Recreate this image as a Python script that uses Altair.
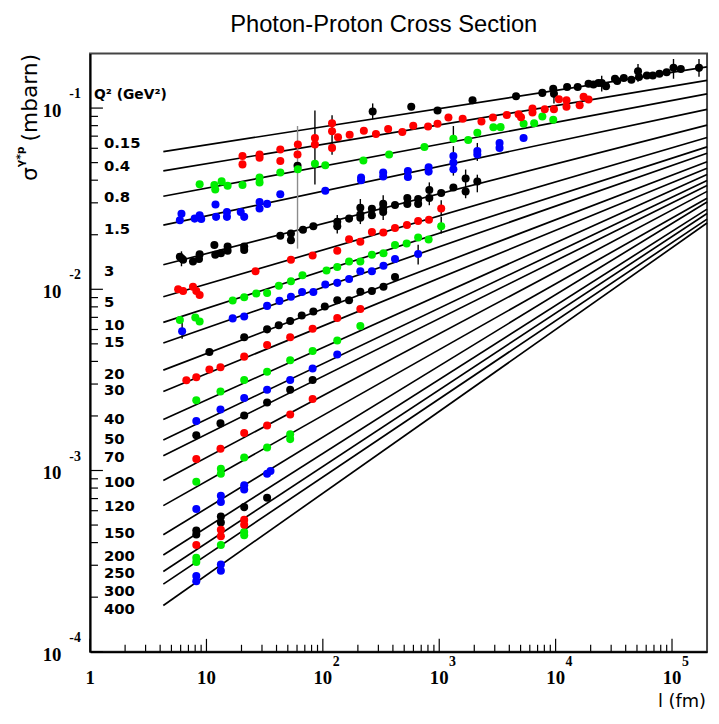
import altair as alt
import pandas as pd

# ---------------- data ----------------
q2_values = ["0.15", "0.4", "0.8", "1.5", "3", "5", "10", "15", "20", "30",
             "40", "50", "70", "100", "120", "150", "200", "250", "300", "400"]
line_l_start = 4.26
line_l_end = 2.0e5
line_sigma_start = [0.0575, 0.0450, 0.0326, 0.02258, 0.01367, 0.0091, 0.00657, 0.00505,
                    0.00358, 0.00273, 0.001913, 0.001475, 0.001207, 0.000882, 0.00064,
                    0.000442, 0.000342, 0.000277, 0.000236, 0.000180]
line_sigma_end = [0.1687, 0.1421, 0.1198, 0.0984, 0.0805, 0.0688, 0.0611, 0.0563, 0.0506,
                  0.0466, 0.0430, 0.0399, 0.0374, 0.0347, 0.0318, 0.0303, 0.0277, 0.0262,
                  0.0244, 0.0232]
q2_label_sigma = [0.0642, 0.048, 0.0322, 0.0216, 0.01268, 0.00855, 0.00636, 0.00511,
                  0.0034, 0.00279, 0.001914, 0.00149, 0.00118, 0.000866, 0.000638,
                  0.000452, 0.000337, 0.000271, 0.000217, 0.0001726]

red_points = [
    (20.4, 0.0544), (20.4, 0.0489), (28.6, 0.0555), (28.6, 0.0532), (43.1, 0.059), (43.1, 0.0511),
    (61.0, 0.0629), (60.6, 0.0555), (85.5, 0.0684), (85.5, 0.0629), (120, 0.0825), (120, 0.0745),
    (120, 0.0603), (135, 0.069), (170, 0.0713), (225, 0.0749), (286, 0.0719), (364, 0.0766),
    (482, 0.0737), (598, 0.0798), (802, 0.0792), (967, 0.0819), (1200, 0.0888), (1590, 0.0872),
    (2306, 0.0844), (2893, 0.0888), (3805, 0.0916), (4810, 0.0924), (5043, 0.089), (6328, 0.0996),
    (6328, 0.0945), (8064, 0.0984), (9675, 0.0984), (10670, 0.112), (12400, 0.1106), (12400, 0.1018),
    (16090, 0.1038), (17390, 0.1153), (19190, 0.1115),
    (26.4, 0.01256), (53.2, 0.01456), (81.7, 0.01536), (133, 0.0163), (168, 0.0189), (210, 0.0183),
    (264, 0.0207), (331, 0.0206), (417, 0.0218), (528, 0.02265), (659, 0.0238), (816, 0.0242),
    (1040, 0.0279),
    (5.71, 0.0100), (6.30, 0.00978), (7.66, 0.01034), (8.18, 0.00978), (8.74, 0.0093),
    (6.72, 0.00315), (8.18, 0.00327), (10.6, 0.00361), (13.2, 0.00371), (21.1, 0.00425),
    (33.2, 0.00493), (52.4, 0.00544), (81.7, 0.00605), (133, 0.00694), (210, 0.00778),
    (8.18, 0.001158), (13.2, 0.00132), (21.1, 0.00161), (33.2, 0.00177), (52.4, 0.00204),
    (81.7, 0.00248),
    (21.1, 0.000534), (21.1, 0.000502), (13.3, 0.000471), (13.3, 0.000434), (8.18, 0.000388),
]

green_points = [
    (8.74, 0.0380), (11.7, 0.0376), (11.9, 0.0355), (13.5, 0.0394), (15.2, 0.0373), (20.4, 0.0376),
    (28.6, 0.0414), (28.6, 0.0389), (43.1, 0.0441), (61.0, 0.046), (85.5, 0.0493), (105, 0.0483),
    (223, 0.0514), (371, 0.0555), (746, 0.0609), (1323, 0.0678), (1774, 0.0667), (2125, 0.0731),
    (2920, 0.0783), (3364, 0.0785), (5306, 0.0819), (6540, 0.0825), (7690, 0.0898), (9541, 0.0861),
    (16.8, 0.00868), (21.1, 0.00905), (26.8, 0.00949), (33.2, 0.00955), (41.9, 0.01047),
    (53.2, 0.01108), (66.8, 0.01195), (107.5, 0.01268), (133, 0.01326), (168, 0.01425),
    (210, 0.01425), (264, 0.01549), (332, 0.0158), (417, 0.01757), (525, 0.0179), (659, 0.0193),
    (811, 0.01885), (1040, 0.0223),
    (5.91, 0.00677), (8.02, 0.00699), (8.74, 0.00665),
    (8.18, 0.00244), (13.2, 0.00273), (21.1, 0.00316), (33.2, 0.00351), (52.4, 0.00406),
    (81.7, 0.00457), (133, 0.00522), (210, 0.00627),
    (8.18, 0.000866), (13.3, 0.001022), (13.3, 0.00096), (21.1, 0.00118), (33.2, 0.00134),
    (52.4, 0.001585), (52.4, 0.00149),
    (21.1, 0.000458), (21.1, 0.000439), (13.3, 0.000388), (8.18, 0.00033), (8.18, 0.000313),
]

blue_points = [
    (5.91, 0.02405), (6.10, 0.0261), (7.92, 0.02455), (8.74, 0.0256), (9.02, 0.0244),
    (11.96, 0.0294), (12.1, 0.0251), (15.0, 0.0267), (15.0, 0.0251), (19.7, 0.0267), (21.1, 0.0251),
    (28.6, 0.0303), (28.6, 0.0279), (33.2, 0.0296), (43.1, 0.0335), (105, 0.035), (213, 0.0414),
    (213, 0.040), (330, 0.0441), (330, 0.0419), (538, 0.045), (538, 0.0417), (811, 0.0472),
    (811, 0.0446), (1323, 0.0544), (1323, 0.050), (1323, 0.046), (2125, 0.0579), (2125, 0.0555),
    (3298, 0.0642), (3298, 0.0603), (5306, 0.0684),
    (6.18, 0.00586), (16.8, 0.00691), (21.1, 0.00708), (33.2, 0.0081), (42.4, 0.00863),
    (53.2, 0.0091), (66.3, 0.00965), (82.9, 0.00965), (105, 0.01063), (133, 0.01085),
    (168, 0.0114), (210, 0.01256), (264, 0.01256), (332, 0.0135), (417, 0.0147), (659, 0.01567),
    (8.18, 0.001873), (13.2, 0.00217), (21.1, 0.00251), (33.2, 0.00279), (52.4, 0.00316),
    (81.7, 0.00366), (133, 0.00437),
    (8.18, 0.000613), (13.3, 0.000726), (13.3, 0.000671), (21.1, 0.000829), (21.1, 0.000785),
    (33.2, 0.00096), (35.5, 0.000994),
    (13.3, 0.000303), (13.3, 0.00028), (8.18, 0.000262), (8.18, 0.000245),
]

black_points = [
    (60.6, 0.048), (268, 0.0957), (575, 0.1018), (967, 0.0969), (1933, 0.1106), (4571, 0.1162),
    (7690, 0.1213), (9541, 0.128), (9675, 0.120), (12550, 0.1308), (15470, 0.1308),
    (19190, 0.1363), (21150, 0.135), (23330, 0.1375), (24890, 0.1375), (27130, 0.1318),
    (32360, 0.1452), (33830, 0.141), (38550, 0.1464), (44770, 0.1434), (51040, 0.1598),
    (52030, 0.1483), (60810, 0.1513), (68390, 0.1513), (77980, 0.1545), (89950, 0.1578),
    (103000, 0.1667), (119000, 0.1645), (170600, 0.1667),
    (5.91, 0.01514), (6.10, 0.01485), (6.30, 0.01456), (7.66, 0.01425), (8.74, 0.0156),
    (8.63, 0.0147), (11.7, 0.01757), (11.9, 0.01549), (13.3, 0.0158), (15.2, 0.0172),
    (15.2, 0.0163), (21.1, 0.0172), (21.1, 0.0165), (43.1, 0.01975), (53.2, 0.0203),
    (53.2, 0.01866), (67.5, 0.0213), (82.9, 0.0223), (133, 0.0236), (133, 0.0223),
    (168, 0.02455), (210, 0.0282), (210, 0.0259), (210, 0.0248), (264, 0.0278), (264, 0.0256),
    (330, 0.0296), (330, 0.0278), (330, 0.0267), (417, 0.0292), (532, 0.0319), (532, 0.0296),
    (659, 0.0315), (659, 0.0296), (822, 0.0353), (822, 0.0319), (1040, 0.034), (1323, 0.0365),
    (1686, 0.0409), (1686, 0.0346), (2125, 0.0393),
    (10.6, 0.00451), (21.1, 0.00544), (33.2, 0.00601), (41.8, 0.00633), (52.4, 0.00669),
    (65.9, 0.00716), (82.9, 0.00754), (104, 0.00803), (133, 0.0087), (168, 0.0087),
    (210, 0.00969), (264, 0.00978), (332, 0.01032), (417, 0.0117),
    (8.18, 0.001565), (13.2, 0.00182), (21.1, 0.00201), (33.2, 0.00237), (52.4, 0.00279),
    (81.7, 0.00316),
    (33.2, 0.000708), (21.1, 0.000628), (13.3, 0.000557), (13.3, 0.000516), (8.18, 0.000467),
    (8.18, 0.000443),
]

# error bars: (l, sigma_low, sigma_high, colour)
error_bars = [
    (60.6, 0.01677, 0.0796, "#8c8c8c"), (85.5, 0.0379, 0.0971, "black"), (120, 0.0552, 0.0913, "black"),
    (268, 0.0868, 0.1061, "black"), (103000, 0.1452, 0.1866, "black"), (170600, 0.149, 0.1866, "black"),
    (51040, 0.1398, 0.1752, "black"), (24890, 0.1233, 0.1507, "black"), (9675, 0.1061, 0.133, "black"),
    (1686, 0.0318, 0.0458, "black"), (2125, 0.0343, 0.0429, "black"), (822, 0.0291, 0.0389, "black"),
    (133, 0.0203, 0.0257, "black"), (6.10, 0.0134, 0.0162, "black"), (1323, 0.0424, 0.0617, "black"),
    (2125, 0.0511, 0.0642, "black"), (1323, 0.0657, 0.0796, "black"), (659, 0.0137, 0.0176, "black"),
    (1040, 0.0203, 0.0251, "black"), (1040, 0.0254, 0.031, "black"), (6.18, 0.00534, 0.00654, "black"),
    (210, 0.0229, 0.0315, "black"), (330, 0.0241, 0.033, "black"),
]

x_major = [1, 10, 100, 1000, 10000, 100000]
x_major_base = ["1", "10", "10", "10", "10", "10"]
x_major_exp = ["", "", "2", "3", "4", "5"]
y_major = [1e-4, 1e-3, 1e-2, 1e-1]
y_major_exp = ["-4", "-3", "-2", "-1"]

# ---------------- build tables ----------------
W, H = 624, 605
xs = alt.Scale(type="log", domain=[1, 2.0e5], nice=False)
ys = alt.Scale(type="log", domain=[1e-4, 0.2], nice=False)
AX = alt.Axis(title=None, labels=False, ticks=False, grid=False,
              domainColor="black", domainWidth=2)

rows = []
for q, s0, s1 in zip(q2_values, line_sigma_start, line_sigma_end):
    rows.append({"q2": q, "l": line_l_start, "sigma": s0})
    rows.append({"q2": q, "l": line_l_end, "sigma": s1})
lines_df = pd.DataFrame(rows)

pts = []
for name, plist in [("black", black_points), ("blue", blue_points),
                    ("green", green_points), ("red", red_points)]:
    for l, s in plist:
        pts.append({"series": name, "l": l, "sigma": s})
pts_df = pd.DataFrame(pts)

err_df = pd.DataFrame([{"l": l, "lo": lo, "hi": hi, "c": c} for l, lo, hi, c in error_bars])

x_minor = [m * 10 ** e for e in range(0, 5) for m in range(2, 10)]
y_minor = [m * 10.0 ** e for e in range(-4, -1) for m in range(2, 10)]
xmin_df = pd.DataFrame({"l": x_minor})
xmaj_df = pd.DataFrame({"l": x_major, "base": x_major_base, "exp": x_major_exp})
ymin_df = pd.DataFrame({"sigma": y_minor})
ymaj_df = pd.DataFrame({"sigma": y_major, "base": ["10"] * 4, "exp": y_major_exp})
lab_df = pd.DataFrame({"sigma": q2_label_sigma, "label": q2_values})

X = alt.X("l:Q", scale=xs, axis=AX)
Y = alt.Y("sigma:Q", scale=ys, axis=AX)

lines = alt.Chart(lines_df).mark_line(color="black", strokeWidth=1.7).encode(
    x=X, y=Y, detail="q2:N")

bars = alt.Chart(err_df).mark_rule(strokeWidth=1.4).encode(
    x=X, y=alt.Y("lo:Q", scale=ys, axis=AX), y2="hi:Q",
    color=alt.Color("c:N", scale=None))

points = alt.Chart(pts_df).mark_circle(size=66, opacity=1).encode(
    x=X, y=Y,
    color=alt.Color("series:N", legend=None,
                    scale=alt.Scale(domain=["red", "green", "blue", "black"],
                                    range=["#ff0000", "#00ee00", "#0000ff", "#000000"])))

xminor_ticks = alt.Chart(xmin_df).mark_rule(color="black", strokeWidth=1.2).encode(
    x=X, y=alt.value(H), y2=alt.value(H - 7))
xmajor_ticks = alt.Chart(xmaj_df).mark_rule(color="black", strokeWidth=1.2).encode(
    x=X, y=alt.value(H), y2=alt.value(H - 13))
yminor_ticks = alt.Chart(ymin_df).mark_rule(color="black", strokeWidth=1.2).encode(
    y=Y, x=alt.value(0), x2=alt.value(8))
ymajor_ticks = alt.Chart(ymaj_df).mark_rule(color="black", strokeWidth=1.2).encode(
    y=Y, x=alt.value(0), x2=alt.value(13))

serif = "Liberation Serif"
xlab_base = alt.Chart(xmaj_df).mark_text(font=serif, fontWeight="bold", fontSize=19,
                                         align="center", baseline="middle").encode(
    x=X, y=alt.value(H + 27), text="base:N")
xlab_exp = alt.Chart(xmaj_df).mark_text(font=serif, fontWeight="bold", fontSize=14,
                                        align="left", baseline="middle", dx=10).encode(
    x=X, y=alt.value(H + 10), text="exp:N")
ylab_base = alt.Chart(ymaj_df).mark_text(font=serif, fontWeight="bold", fontSize=19,
                                         align="right", baseline="middle", dy=3).encode(
    y=Y, x=alt.value(-29), text="base:N")
ylab_exp = alt.Chart(ymaj_df).mark_text(font=serif, fontWeight="bold", fontSize=14,
                                        align="left", baseline="middle", dy=-14).encode(
    y=Y, x=alt.value(-21), text="exp:N")

q2_labels = alt.Chart(lab_df).mark_text(font="DejaVu Sans", fontWeight="bold", fontSize=15,
                                        align="left", baseline="middle").encode(
    y=Y, x=alt.value(14), text="label:N")

def note(txt, x, y, **kw):
    return alt.Chart(pd.DataFrame({"t": [txt]})).mark_text(**kw).encode(
        x=alt.value(x), y=alt.value(y), text="t:N")

header = note("Q² (GeV²)", 4, 42, font="DejaVu Sans", fontWeight="bold", fontSize=14,
              align="left", baseline="middle")
xtitle = note("l (fm)", 623, 656, font="DejaVu Sans", fontSize=18,
              align="right", baseline="middle")
title = note("Photon-Proton Cross Section", 297, -22, font="Liberation Sans", fontSize=24,
             align="center", baseline="alphabetic")
ysig = note("σ", -61, 129, font="DejaVu Sans", fontSize=22, angle=270,
            align="left", baseline="middle")
ysup = note("γ*p", -70, 115, font="DejaVu Sans", fontWeight="bold", fontSize=11, angle=270,
            align="left", baseline="middle")
yunit = note("(mbarn)", -61, 89, font="DejaVu Sans", fontSize=22, angle=270,
             align="left", baseline="middle")

chart = alt.layer(
    lines, bars, points, xminor_ticks, xmajor_ticks, yminor_ticks, ymajor_ticks,
    xlab_base, xlab_exp, ylab_base, ylab_exp, q2_labels, header, xtitle, title,
    ysig, ysup, yunit
).properties(
    width=W, height=H,
    padding={"left": 83, "top": 42, "right": 4, "bottom": 64},
    autosize="none",
    background="white",
).configure_view(stroke="#444444", strokeWidth=2)

chart.save("out.html", embed_options={"renderer": "svg", "actions": False})
